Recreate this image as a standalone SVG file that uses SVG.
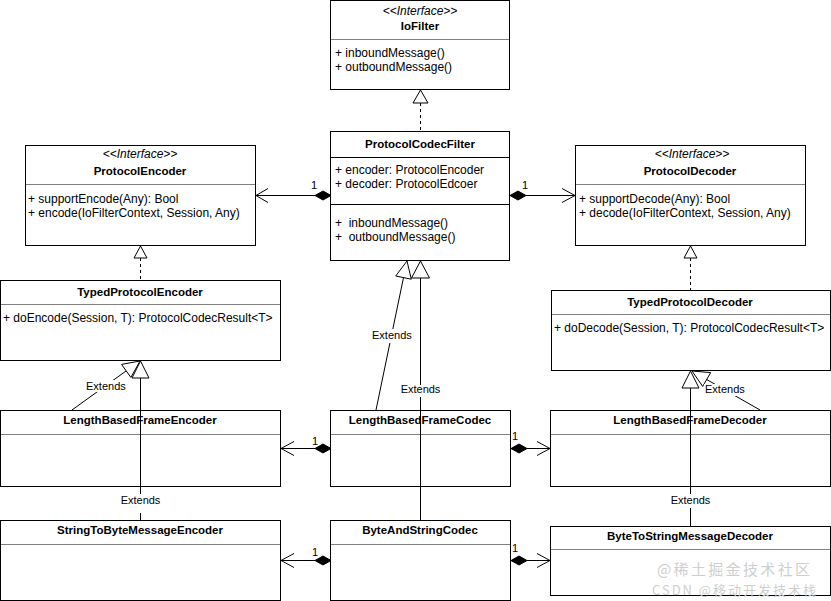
<svg xmlns="http://www.w3.org/2000/svg" width="831" height="601" viewBox="0 0 831 601">
<style>
.box{fill:#fff;stroke:#000;stroke-width:1}
.sep{stroke:#808080;stroke-width:1}
.sepk{stroke:#000;stroke-width:1}
.name{font-family:"Liberation Sans",Arial,sans-serif;font-weight:bold;font-size:11.5px;text-anchor:middle;fill:#000}
.st{font-family:"Liberation Sans",Arial,sans-serif;font-style:italic;font-size:12px;text-anchor:middle;fill:#000}
.mem{font-family:"Liberation Sans",Arial,sans-serif;font-size:12px;fill:#000}
.lbl{font-family:"Liberation Sans",Arial,sans-serif;font-size:11px;fill:#000}
.c{text-anchor:middle}
.ln{stroke:#000;stroke-width:1;fill:none}
.dash{stroke-dasharray:3 3}
.tri{fill:#fff;stroke:#000;stroke-width:1}
.dia{fill:#000;stroke:#000;stroke-width:1}
.bg{fill:#fff}
.wm{font-family:"Noto Sans CJK SC","Liberation Sans",sans-serif;fill:#cfcfcf}
</style>
<rect width="831" height="601" fill="#fff"/>

<g id="IoFilter">
<rect class="box" x="330.5" y="0.5" width="179" height="89"/>
<line class="sep" x1="331" y1="39.5" x2="509" y2="39.5"/>
<text class="st" x="420" y="15">&lt;&lt;Interface&gt;&gt;</text>
<text class="name" x="420" y="30">IoFilter</text>
<text class="mem" x="335" y="57">+ inboundMessage()</text>
<text class="mem" x="335" y="71">+ outboundMessage()</text>
</g>

<g id="ProtocolEncoder">
<rect class="box" x="25.5" y="145.5" width="230" height="100"/>
<line class="sep" x1="26" y1="184.5" x2="255" y2="184.5"/>
<text class="st" x="140" y="158">&lt;&lt;Interface&gt;&gt;</text>
<text class="name" x="140" y="175">ProtocolEncoder</text>
<text class="mem" x="28" y="203">+ supportEncode(Any): Bool</text>
<text class="mem" x="28" y="217">+ encode(IoFilterContext, Session, Any)</text>
</g>

<g id="ProtocolCodecFilter">
<rect class="box" x="330.5" y="131.5" width="179" height="129"/>
<line class="sepk" x1="331" y1="157.5" x2="509" y2="157.5"/>
<line class="sepk" x1="331" y1="204.5" x2="509" y2="204.5"/>
<text class="name" x="420" y="148">ProtocolCodecFilter</text>
<text class="mem" x="335" y="174">+ encoder: ProtocolEncoder</text>
<text class="mem" x="335" y="188">+ decoder: ProtocolEdcoer</text>
<text class="mem" x="335" y="227" xml:space="preserve">+  inboundMessage()</text>
<text class="mem" x="335" y="241" xml:space="preserve">+  outboundMessage()</text>
</g>

<g id="ProtocolDecoder">
<rect class="box" x="575.5" y="145.5" width="230" height="100"/>
<line class="sep" x1="576" y1="184.5" x2="805" y2="184.5"/>
<text class="st" x="692" y="158">&lt;&lt;Interface&gt;&gt;</text>
<text class="name" x="690" y="175">ProtocolDecoder</text>
<text class="mem" x="579" y="203">+ supportDecode(Any): Bool</text>
<text class="mem" x="579" y="217">+ decode(IoFilterContext, Session, Any)</text>
</g>

<g id="TypedProtocolEncoder">
<rect class="box" x="0.5" y="280.5" width="280" height="80"/>
<line class="sep" x1="1" y1="304.5" x2="280" y2="304.5"/>
<text class="name" x="140" y="296">TypedProtocolEncoder</text>
<text class="mem" x="3" y="322">+ doEncode(Session, T): ProtocolCodecResult&lt;T&gt;</text>
</g>

<g id="TypedProtocolDecoder">
<rect class="box" x="551.5" y="290.5" width="279" height="80"/>
<line class="sep" x1="552" y1="314.5" x2="830" y2="314.5"/>
<text class="name" x="690" y="306">TypedProtocolDecoder</text>
<text class="mem" x="554" y="332">+ doDecode(Session, T): ProtocolCodecResult&lt;T&gt;</text>
</g>

<g id="LengthBasedFrameEncoder">
<rect class="box" x="0.5" y="410.5" width="280" height="76"/>
<line class="sep" x1="1" y1="434.5" x2="280" y2="434.5"/>
<text class="name" x="140" y="424">LengthBasedFrameEncoder</text>
</g>

<g id="LengthBasedFrameCodec">
<rect class="box" x="330.5" y="410.5" width="180" height="76"/>
<line class="sep" x1="331" y1="434.5" x2="510" y2="434.5"/>
<text class="name" x="420" y="424">LengthBasedFrameCodec</text>
</g>

<g id="LengthBasedFrameDecoder">
<rect class="box" x="550.5" y="410.5" width="280" height="76"/>
<line class="sep" x1="551" y1="434.5" x2="830" y2="434.5"/>
<text class="name" x="690" y="424">LengthBasedFrameDecoder</text>
</g>

<g id="StringToByteMessageEncoder">
<rect class="box" x="0.5" y="520.5" width="280" height="80"/>
<line class="sep" x1="1" y1="544.5" x2="280" y2="544.5"/>
<text class="name" x="140" y="534">StringToByteMessageEncoder</text>
</g>

<g id="ByteAndStringCodec">
<rect class="box" x="330.5" y="520.5" width="180" height="80"/>
<line class="sep" x1="331" y1="544.5" x2="510" y2="544.5"/>
<text class="name" x="420" y="534">ByteAndStringCodec</text>
</g>

<g id="ByteToStringMessageDecoder">
<rect class="box" x="550.5" y="526.5" width="280" height="69"/>
<line class="sep" x1="551" y1="549.5" x2="830" y2="549.5"/>
<text class="name" x="690" y="540">ByteToStringMessageDecoder</text>
</g>

<g id="connectors">
<line class="ln dash" x1="420.5" y1="103" x2="420.5" y2="131"/>
<polygon class="tri" points="420.5,90 413,103 428,103"/>
<line class="ln dash" x1="140.5" y1="258" x2="140.5" y2="280"/>
<polygon class="tri" points="140.5,246 134,258 147,258"/>
<line class="ln dash" x1="690.5" y1="258" x2="690.5" y2="290"/>
<polygon class="tri" points="690.5,246 684,258 697,258"/>

<line class="ln" x1="256" y1="195.5" x2="315" y2="195.5"/>
<polyline class="ln" points="268,188.5 256,195.5 268,202.5"/>
<polygon class="dia" points="315,195.5 323,191 331,195.5 323,200"/>
<text class="lbl" x="311" y="189">1</text>

<line class="ln" x1="526" y1="195.5" x2="575" y2="195.5"/>
<polyline class="ln" points="562,188.5 575,195.5 562,202.5"/>
<polygon class="dia" points="510,195.5 518,191 526,195.5 518,200"/>
<text class="lbl" x="522" y="189">1</text>

<line class="ln" x1="281" y1="448.5" x2="315" y2="448.5"/>
<polyline class="ln" points="294,441.5 281,448.5 294,455.5"/>
<polygon class="dia" points="315,448.5 323,444 331,448.5 323,453"/>
<text class="lbl" x="312" y="445">1</text>

<line class="ln" x1="527" y1="448.5" x2="550" y2="448.5"/>
<polyline class="ln" points="537,441.5 550,448.5 537,455.5"/>
<polygon class="dia" points="511,448.5 519,444 527,448.5 519,453"/>
<text class="lbl" x="512" y="440">1</text>

<line class="ln" x1="281" y1="560.5" x2="315" y2="560.5"/>
<polyline class="ln" points="294,553.5 281,560.5 294,567.5"/>
<polygon class="dia" points="315,560.5 323,556 331,560.5 323,565"/>
<text class="lbl" x="312" y="556">1</text>

<line class="ln" x1="527" y1="560.5" x2="550" y2="560.5"/>
<polyline class="ln" points="537,553.5 550,560.5 537,567.5"/>
<polygon class="dia" points="511,560.5 519,556 527,560.5 519,565"/>
<text class="lbl" x="512" y="552">1</text>

<line class="ln" x1="72" y1="410" x2="126.2" y2="370.9"/>
<polygon class="tri" points="140,361 130.9,377.4 121.5,364.4"/>
<rect class="bg" x="85" y="380" width="40" height="12"/>
<text class="lbl" x="86" y="390">Extends</text>

<line class="ln" x1="140.5" y1="378" x2="140.5" y2="520"/>
<polygon class="tri" points="140.5,361 132,378 149,378"/>
<rect class="bg" x="120" y="494" width="41" height="19"/>
<text class="lbl c" x="140.5" y="504">Extends</text>

<line class="ln" x1="376" y1="410" x2="403.5" y2="277.6"/>
<polygon class="tri" points="407,261 411.3,279.2 395.7,276"/>
<rect class="bg" x="371" y="329" width="40" height="14"/>
<text class="lbl" x="372" y="339">Extends</text>

<line class="ln" x1="420.5" y1="278" x2="420.5" y2="520"/>
<polygon class="tri" points="420.5,261 411.5,278 429.5,278"/>
<rect class="bg" x="400" y="385" width="41" height="12"/>
<text class="lbl c" x="420.5" y="393">Extends</text>

<line class="ln" x1="760" y1="410" x2="706.7" y2="379.5"/>
<polygon class="tri" points="692,371 710.7,372.6 702.7,386.4"/>
<rect class="bg" x="704" y="384" width="40" height="12"/>
<text class="lbl" x="705" y="393">Extends</text>

<line class="ln" x1="690.5" y1="388" x2="690.5" y2="526"/>
<polygon class="tri" points="690.5,371 682,388 699,388"/>
<rect class="bg" x="670" y="494" width="41" height="14"/>
<text class="lbl c" x="690.5" y="504">Extends</text>
</g>

<g id="watermark">
<text class="wm" x="657" y="575" font-size="15" textLength="153" lengthAdjust="spacing">@稀土掘金技术社区</text>
<text class="wm" x="652" y="595" font-size="13" textLength="164" lengthAdjust="spacing">CSDN @移动开发技术栈</text>
</g>
</svg>
